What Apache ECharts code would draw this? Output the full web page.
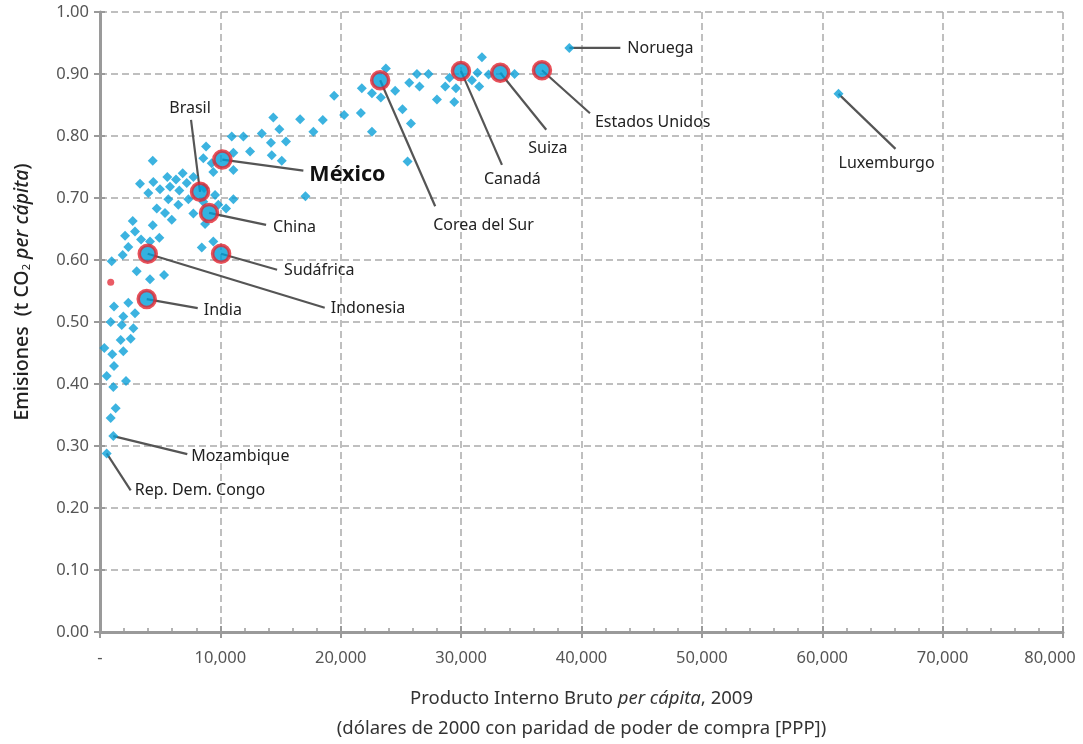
<!DOCTYPE html>
<html>
<head>
<meta charset="utf-8">
<script src="https://cdn.jsdelivr.net/npm/echarts@6/dist/echarts.min.js"></script>
<style>
  html, body { margin: 0; padding: 0; background: #fff; }
  #chart { width: 1083px; height: 744px; }
</style>
</head>
<body>
<div id="chart"></div>
<script>
// PIB per cápita (dólares de 2000 PPP) y emisiones (t CO2 per cápita)
const countryGdp = [
  10945, 11910, 13440, 14900, 14200, 15450, 8810, 11080, 12465, 14270,
  15100, 8585, 9280, 4380, 11080, 9415, 7755, 6870, 6315, 5590,
  7205, 4430, 3325, 4985, 5815, 6590, 4015, 8645, 9560, 5675,
  7340, 8585, 11080, 6505, 9830, 10475, 4715, 7755, 5400, 5960,
  2720, 4380, 8730, 2910, 2080, 3410, 4155, 4930, 2350, 9415,
  8455, 1885, 970, 3050, 4155, 5320, 2350, 1165, 2910, 1935,
  890, 1805, 2770, 1720, 2550, 360, 1020, 1935, 1165, 555,
  2160, 1105, 1305, 890, 19450, 21750, 22590, 14400, 16625, 18510,
  20280, 21670, 17725, 22590, 17065, 31730, 23750, 26330, 27290, 25690,
  26540, 23330, 24520, 25130, 25830, 25550, 29040, 28680, 29570, 27990,
  29430, 31360, 30900, 31500, 32280, 34440
];
const countryEmis = [
  0.799, 0.799, 0.804, 0.811, 0.789, 0.791, 0.783, 0.773, 0.775, 0.769,
  0.760, 0.764, 0.756, 0.760, 0.745, 0.742, 0.734, 0.740, 0.730, 0.734,
  0.724, 0.726, 0.723, 0.714, 0.718, 0.712, 0.708, 0.716, 0.705, 0.698,
  0.698, 0.694, 0.698, 0.689, 0.689, 0.683, 0.683, 0.675, 0.676, 0.665,
  0.663, 0.656, 0.658, 0.646, 0.639, 0.633, 0.630, 0.636, 0.621, 0.630,
  0.620, 0.608, 0.598, 0.582, 0.569, 0.576, 0.531, 0.525, 0.514, 0.509,
  0.500, 0.495, 0.490, 0.471, 0.473, 0.458, 0.448, 0.453, 0.429, 0.413,
  0.405, 0.395, 0.361, 0.345, 0.865, 0.877, 0.869, 0.830, 0.827, 0.826,
  0.834, 0.837, 0.807, 0.807, 0.703, 0.927, 0.909, 0.900, 0.900, 0.886,
  0.880, 0.862, 0.873, 0.843, 0.820, 0.759, 0.894, 0.880, 0.877, 0.859,
  0.855, 0.902, 0.890, 0.880, 0.899, 0.900
];

// países señalados con círculo
const keyNames = ['México', 'Brasil', 'China', 'Indonesia', 'Sudáfrica', 'India',
  'Corea del Sur', 'Canadá', 'Suiza', 'Estados Unidos'];
const keyGdp = [10165, 8310, 9060, 3965, 10060, 3880, 23275, 29985, 33250, 36715];
const keyEmis = [0.762, 0.710, 0.676, 0.610, 0.610, 0.537, 0.890, 0.905, 0.902, 0.906];

// otros países con nombre
const namedNames = ['Noruega', 'Luxemburgo', 'Mozambique', 'Rep. Dem. Congo'];
const namedGdp = [38990, 61350, 1105, 555];
const namedEmis = [0.942, 0.868, 0.316, 0.288];

// punto rojo
const redGdp = [890];
const redEmis = [0.564];

const xTicks = [0, 10000, 20000, 30000, 40000, 50000, 60000, 70000, 80000];

// anotaciones: fin de la línea guía y posición del texto, en px relativos al punto
// (orden: keyNames y luego namedNames)
const guideEnd = [[81, 11], [-9, -72], [57, 12], [177, 54], [56, 16], [51, 9],
  [55, 126], [41, 94], [46, 57], [48, 43],
  [51, 0], [57, 55], [74, 18], [24, 37]];
const textPos = [[87, 15, 'left'], [-10, -83, 'center'], [64, 15, 'left'], [183, 55, 'left'],
  [63, 17, 'left'], [57, 11, 'left'], [53, 145, 'left'], [23, 109, 'left'], [28, 76, 'left'],
  [53, 52, 'left'], [58, 0, 'left'], [0, 70, 'left'], [78, 20, 'left'], [28, 37, 'left']];

const pairs = (xs, ys) => xs.map((x, i) => [x, ys[i]]);
const FONT = 'Noto Sans';
const BLUE = '#0ba0d8';
const GRAY = '#9a9a9a';
const xMax = xTicks[xTicks.length - 1];

const annoNames = keyNames.concat(namedNames);
const annoData = keyGdp.concat(namedGdp).map((x, i) => [x, keyEmis.concat(namedEmis)[i], i]);

function renderGuide(params, api) {
  const i = api.value(2);
  const p = api.coord([api.value(0), api.value(1)]);
  const e = guideEnd[i];
  const t = textPos[i];
  const big = i === 0;
  return {
    type: 'group',
    children: [
      {
        type: 'line',
        shape: { x1: p[0], y1: p[1], x2: p[0] + e[0], y2: p[1] + e[1] },
        style: { stroke: '#555', lineWidth: 2.2 }
      },
      {
        type: 'text',
        x: p[0] + t[0],
        y: p[1] + t[1],
        style: {
          text: annoNames[i],
          align: t[2],
          verticalAlign: 'middle',
          fill: big ? '#111' : '#222',
          font: (big ? 'bold 21.5px ' : '16px ') + FONT
        }
      }
    ]
  };
}

const chart = echarts.init(document.getElementById('chart'));
chart.setOption({
  animation: false,
  textStyle: { fontFamily: FONT },
  grid: { left: 100, right: 20, top: 12, bottom: 112, outerBoundsMode: 'none' },
  xAxis: [{
    type: 'value',
    position: 'bottom',
    min: xTicks[0],
    max: xMax,
    interval: 10000,
    name: '{a|Producto Interno Bruto }{i|per cápita}{a|, 2009}\n{a|(dólares de 2000 con paridad de poder de compra [PPP])}',
    nameLocation: 'middle',
    nameGap: 52,
    nameTextStyle: {
      rich: {
        a: { fontSize: 18.5, color: '#333', lineHeight: 30, fontFamily: FONT },
        i: { fontSize: 18.5, color: '#333', lineHeight: 30, fontStyle: 'italic', fontFamily: FONT }
      }
    },
    axisLine: { lineStyle: { color: GRAY, width: 3 } },
    axisTick: { show: true, inside: true, length: 6, lineStyle: { color: GRAY, width: 2 } },
    minorTick: { show: true, splitNumber: 5, length: 4, lineStyle: { color: GRAY, width: 1.5 } },
    axisLabel: {
      color: '#555', fontSize: 16.5, margin: 18,
      formatter: v => v === 0 ? '-' : (v === xMax ? '{m|' + v.toLocaleString('en-US') + '}' : v.toLocaleString('en-US')),
      rich: { m: { color: '#555', fontSize: 16.5, fontFamily: FONT, padding: [0, 26, 0, 0] } }
    },
    splitLine: { show: true, lineStyle: { color: '#aaa', type: [7, 4], width: 1.5 } }
  }, {
    type: 'value',
    position: 'bottom',
    offset: 0,
    min: xTicks[0],
    max: xMax,
    interval: 10000,
    axisLine: { show: false },
    axisTick: { show: true, length: 6, lineStyle: { color: GRAY, width: 2 } },
    axisLabel: { show: false },
    splitLine: { show: false }
  }],
  yAxis: [{
    type: 'value',
    position: 'left',
    min: 0,
    max: 1,
    interval: 0.1,
    name: '{a|Emisiones  (t CO}{s|2}{i| per cápita}{a|)}',
    nameLocation: 'middle',
    nameGap: 68,
    nameRotate: 90,
    nameTextStyle: {
      padding: [0, 0, 0, 60],
      rich: {
        a: { fontSize: 19.5, color: '#222', fontFamily: FONT, fontWeight: 500 },
        s: { fontSize: 11, color: '#222', fontFamily: FONT, verticalAlign: 'bottom', padding: [9, 0, 0, 0] },
        i: { fontSize: 19.5, color: '#222', fontStyle: 'italic', fontFamily: FONT, fontWeight: 500 }
      }
    },
    axisLine: { show: true, lineStyle: { color: GRAY, width: 3 } },
    axisTick: { show: true, inside: true, length: 5, lineStyle: { color: GRAY, width: 2 } },
    axisLabel: { color: '#555', fontSize: 16.5, margin: 11, formatter: v => v.toFixed(2) },
    splitLine: { show: true, lineStyle: { color: '#aaa', type: [7, 4], width: 1.5 } }
  }, {
    type: 'value',
    position: 'left',
    offset: 0,
    min: 0,
    max: 1,
    interval: 0.1,
    axisLine: { show: false },
    axisTick: { show: true, length: 6, lineStyle: { color: GRAY, width: 2 } },
    axisLabel: { show: false },
    splitLine: { show: false }
  }],
  series: [
    {
      type: 'scatter',
      symbol: 'diamond',
      symbolSize: 10,
      itemStyle: { color: BLUE },
      data: pairs(countryGdp, countryEmis)
    },
    {
      type: 'scatter',
      symbol: 'circle',
      symbolSize: 7,
      itemStyle: { color: '#e5323e' },
      data: pairs(redGdp, redEmis)
    },
    {
      type: 'custom',
      renderItem: renderGuide,
      data: annoData,
      encode: { x: 0, y: 1 }
    },
    {
      type: 'scatter',
      symbol: 'diamond',
      symbolSize: 10,
      itemStyle: { color: BLUE },
      data: pairs(namedGdp, namedEmis)
    },
    {
      type: 'scatter',
      symbol: 'circle',
      symbolSize: 17,
      itemStyle: { color: '#009fda', borderColor: '#e3262f', borderWidth: 3.5 },
      data: pairs(keyGdp, keyEmis)
    }
  ]
});
</script>
</body>
</html>
